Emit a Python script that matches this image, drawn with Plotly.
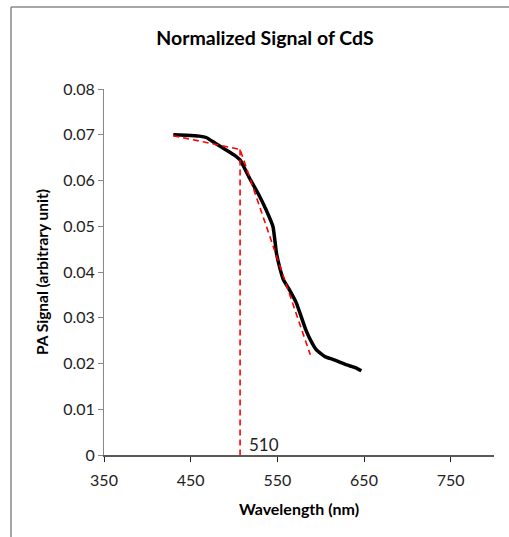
import plotly.graph_objects as go

# Measured normalized PA signal of CdS
wavelength = [430, 445, 460, 468, 478, 490, 500, 507, 518, 528, 537, 545, 549, 553, 557, 564, 572, 583, 590, 595, 605, 614, 622, 630, 640, 647]
signal = [0.0700, 0.0699, 0.0697, 0.0694, 0.0682, 0.0668, 0.0656, 0.0645, 0.0605, 0.0571, 0.0536, 0.0499, 0.0441, 0.0408, 0.0383, 0.0361, 0.0332, 0.0273, 0.0245, 0.0230, 0.0215, 0.0209, 0.0203, 0.0197, 0.0191, 0.0184]

# Red dashed linear fit / band-edge construction
fit_x = [430, 507, 588, None, 507, 507]
fit_y = [0.0698, 0.0668, 0.0219, None, 0.0668, 0.0]

edge_label = "510"
edge_label_pos = (534.5, 0.0024)

x_ticks = [350, 450, 550, 650, 750]
y_ticks = [0, 0.01, 0.02, 0.03, 0.04, 0.05, 0.06, 0.07, 0.08]
y_tick_text = ["0", "0.01", "0.02", "0.03", "0.04", "0.05", "0.06", "0.07", "0.08"]

FONT = "Lato, Open Sans, sans-serif"

fig = go.Figure()
fig.add_trace(go.Scatter(x=wavelength, y=signal, mode="lines",
                         line=dict(color="black", width=3.5, shape="spline", smoothing=0.4),
                         showlegend=False, hoverinfo="skip"))
fig.add_trace(go.Scatter(x=fit_x, y=fit_y, mode="lines",
                         line=dict(color="#ff0000", width=1.6, dash="6px,4px"),
                         showlegend=False, hoverinfo="skip", connectgaps=False))

fig.add_annotation(x=edge_label_pos[0], y=edge_label_pos[1], text=edge_label,
                   showarrow=False, font=dict(family=FONT, size=17, color="#222"),
                   xanchor="center", yanchor="middle")

left_p = (11 - 104) / 390
top_p = (455 - 7) / 366

fig.update_layout(
    width=509, height=537,
    margin=dict(l=104, r=15, t=89, b=82, autoexpand=False),
    paper_bgcolor="white", plot_bgcolor="white",
    title=dict(text="<b>Normalized Signal of CdS</b>", x=265 / 509, xanchor="center",
               y=1 - 38 / 537, yanchor="middle",
               font=dict(family=FONT, size=19.5, color="black")),
    xaxis=dict(range=[350, 800], tickvals=x_ticks, ticks="outside", ticklen=5,
               tickcolor="#222", showline=True, linecolor="#595959", linewidth=2,
               showgrid=False, zeroline=False, ticklabelstandoff=5,
               tickfont=dict(family=FONT, size=16, color="#222"),
               title=dict(text="<b>Wavelength (nm)</b>", standoff=16,
                          font=dict(family=FONT, size=16, color="black"))),
    yaxis=dict(range=[0, 0.08], tickvals=y_ticks, ticktext=y_tick_text,
               ticks="outside", ticklen=5, tickcolor="#888",
               showline=True, linecolor="#888", linewidth=1,
               showgrid=False, zeroline=False,
               tickfont=dict(family=FONT, size=16, color="#222"),
               title=dict(text="<b>PA Signal (arbitrary unit)</b>", standoff=10,
                          font=dict(family=FONT, size=15.5, color="black"))),
    shapes=[
        dict(type="line", xref="paper", yref="paper",
             x0=left_p, x1=1.05, y0=top_p, y1=top_p,
             line=dict(color="#888", width=1.5), layer="above"),
        dict(type="line", xref="paper", yref="paper",
             x0=left_p, x1=left_p, y0=top_p, y1=-0.25,
             line=dict(color="#888", width=1.5), layer="above"),
    ],
)

fig.write_html("out.html", config={"displayModeBar": False},
               post_script="document.body.style.margin='0';")
